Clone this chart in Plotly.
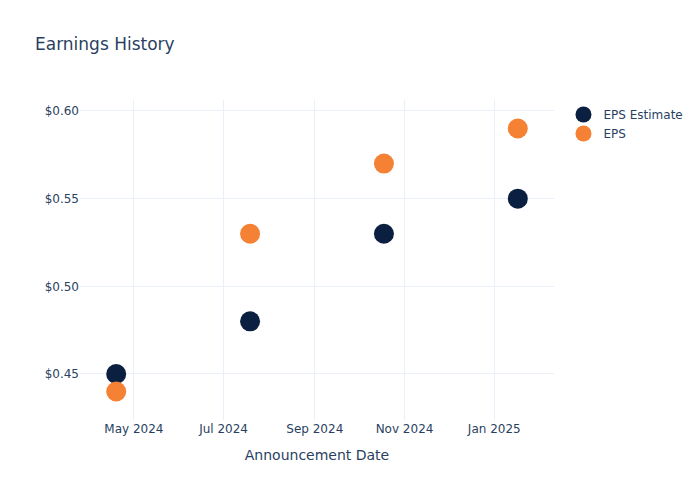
import pandas as pd
import plotly.graph_objects as go

# datos de ganancias por trimestre
fechas = ["2024-04-19", "2024-07-19", "2024-10-18", "2025-01-17"]
eps_estimado = [0.45, 0.48, 0.53, 0.55]
eps_real = [0.44, 0.53, 0.57, 0.59]

df = pd.DataFrame({
    "Fecha": pd.to_datetime(fechas),
    "EPS Estimate": eps_estimado,
    "EPS": eps_real,
})

fig = go.Figure()
fig.add_trace(go.Scatter(
    x=df["Fecha"], y=df["EPS Estimate"], mode="markers", name="EPS Estimate",
    marker=dict(size=20, color="#0b1f41"),
))
fig.add_trace(go.Scatter(
    x=df["Fecha"], y=df["EPS"], mode="markers", name="EPS",
    marker=dict(size=20, color="#f58135"),
))

fig.update_layout(
    template="plotly_white",
    width=700,
    height=500,
    font=dict(family="DejaVu Sans"),
    title=dict(text="Earnings History"),
    xaxis=dict(title="Announcement Date"),
    yaxis=dict(tickprefix="$", tickformat=".2f"),
)

# quitar el margen del body para que la figura quede en 0,0
fig.write_html(
    "out.html",
    config={"displayModeBar": False},
    post_script="document.body.style.margin='0';",
)
